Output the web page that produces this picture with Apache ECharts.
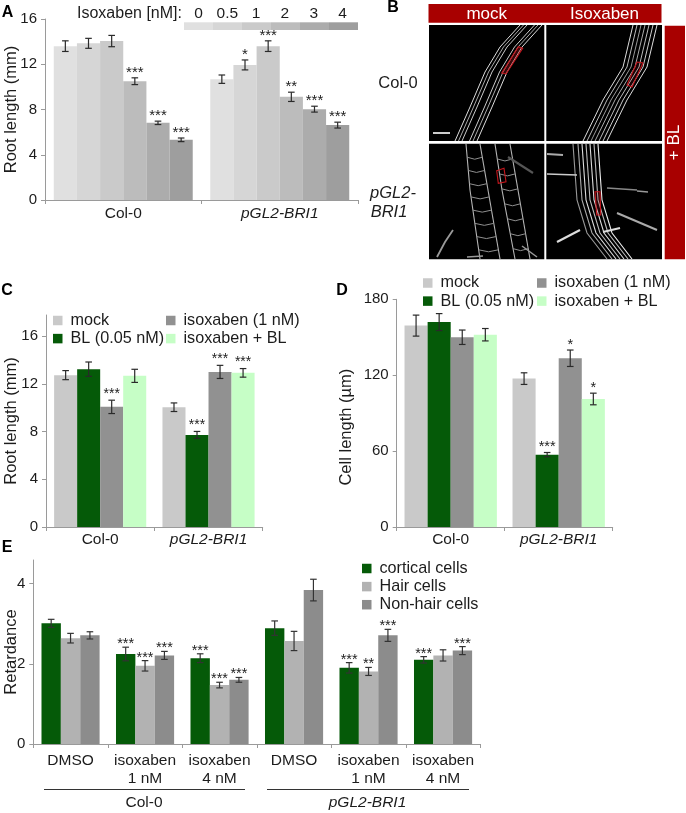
<!DOCTYPE html>
<html><head><meta charset="utf-8">
<script src="https://cdn.jsdelivr.net/npm/echarts@6/dist/echarts.min.js"></script>
<style>html,body{margin:0;padding:0;background:#fff}#c{width:686px;height:813px}</style>
</head><body><div id="c"></div>
<script>
const FONT = '"Liberation Sans", Arial, sans-serif';
const TXT = '#1c1c1c', AXIS = '#9a9a9a';

// Panel A
const aCategories = ['Col-0', 'pGL2-BRI1'];
const aDoses = ['0', '0.5', '1', '2', '3', '4'];
const aColors = ['#e0e0e0', '#d6d6d6', '#cacaca', '#bcbcbc', '#acacac', '#9e9e9e'];
const aColValues = [13.6, 13.85, 14.05, 10.5, 6.82, 5.32];
const aPglValues = [10.68, 11.94, 13.6, 9.12, 8.03, 6.62];
const aColErrors = [0.47, 0.44, 0.5, 0.3, 0.15, 0.16];
const aPglErrors = [0.37, 0.44, 0.47, 0.41, 0.26, 0.26];
const aColStars = ['', '', '', '***', '***', '***'];
const aPglStars = ['', '*', '***', '**', '***', '***'];
const aTicks = [0, 4, 8, 12, 16];

// Panels C and D
const treatments = ['mock', 'BL (0.05 nM)', 'isoxaben (1 nM)', 'isoxaben + BL'];
const treatmentColors = ['#c9c9c9', '#055a08', '#919191', '#c6fec6'];
const cdCategories = ['Col-0', 'pGL2-BRI1'];
const cColValues = [12.73, 13.23, 10.07, 12.67];
const cPglValues = [10.04, 7.72, 13.0, 12.92];
const cColErrors = [0.38, 0.6, 0.56, 0.55];
const cPglErrors = [0.36, 0.29, 0.55, 0.36];
const cColStars = ['', '', '***', ''];
const cPglStars = ['', '***', '***', '***'];
const cTicks = [0, 4, 8, 12, 16];
const dColValues = [159.2, 162, 150, 152];
const dPglValues = [117.3, 57.2, 133.4, 101.2];
const dColErrors = [8.3, 6.7, 5.7, 4.9];
const dPglErrors = [4.6, 1.7, 6.5, 4.6];
const dColStars = ['', '', '', ''];
const dPglStars = ['', '***', '*', '*'];
const dTicks = [0, 60, 120, 180];

// Panel E
const eCategories = ['DMSO', 'isoxaben\n1 nM', 'isoxaben\n4 nM', 'DMSO', 'isoxaben\n1 nM', 'isoxaben\n4 nM'];
const eSeriesNames = ['cortical cells', 'Hair cells', 'Non-hair cells'];
const eColors = ['#055a08', '#b2b2b2', '#8c8c8c'];
const eCortical = [3.01, 2.245, 2.14, 2.89, 1.90, 2.10];
const eHair = [2.64, 1.95, 1.47, 2.57, 1.81, 2.21];
const eNonHair = [2.71, 2.21, 1.6, 3.84, 2.71, 2.33];
const eCorticalErr = [0.1, 0.17, 0.11, 0.18, 0.13, 0.08];
const eHairErr = [0.12, 0.13, 0.07, 0.24, 0.1, 0.14];
const eNonHairErr = [0.09, 0.1, 0.06, 0.27, 0.15, 0.1];
const eCorticalStars = ['', '***', '***', '', '***', '***'];
const eHairStars = ['', '***', '***', '', '**', ''];
const eNonHairStars = ['', '***', '***', '', '***', '***'];
const eTicks = [0, 2, 4];

function transpose(rows) { return rows[0].map((_, i) => rows.map(r => r[i])); }

const grids = [
  { left: 45, top: 19, width: 313, height: 181, outerBoundsMode: 'none' },
  { left: 46, top: 315, width: 216.7, height: 212, outerBoundsMode: 'none' },
  { left: 396.7, top: 299.3, width: 216, height: 227.7, outerBoundsMode: 'none' },
  { left: 33.3, top: 560, width: 447, height: 184, outerBoundsMode: 'none' }
];
const labelStyle = { fontFamily: FONT, fontSize: 15.5, color: TXT };
function xAxis(i, cats, margin, extra) {
  return Object.assign({
    type: 'category', gridIndex: i, data: cats,
    axisLine: { lineStyle: { color: AXIS, width: 1 } },
    axisTick: { show: true, length: 4, lineStyle: { color: AXIS } },
    axisLabel: Object.assign({}, labelStyle, {
      interval: 0, margin: margin, lineHeight: 18,
      formatter: v => v === 'pGL2-BRI1' ? '{i|pGL2-BRI1}' : v,
      rich: { i: { fontStyle: 'italic', fontFamily: FONT, fontSize: 15.5, color: TXT } }
    })
  }, extra || {});
}
function yAxis(i, max, ticks, name, gap, pad) {
  return {
    type: 'value', gridIndex: i, min: 0, max: max,
    name: name, nameLocation: 'middle', nameRotate: 90, nameGap: gap, nameMoveOverlap: false,
    nameTextStyle: { fontFamily: FONT, fontSize: 16.5, color: TXT, padding: pad || 0 },
    axisLine: { show: true, lineStyle: { color: AXIS, width: 1 } },
    axisTick: { show: true, length: 4, lineStyle: { color: AXIS }, customValues: ticks },
    axisLabel: { fontFamily: FONT, fontSize: 15, color: TXT, margin: 8, customValues: ticks },
    splitLine: { show: false }
  };
}

function bars(axis, names, rows, colors, gap) {
  return names.map((n, s) => ({
    type: 'bar', name: n, xAxisIndex: axis, yAxisIndex: axis,
    data: rows[s], barGap: 0, barCategoryGap: gap,
    itemStyle: { color: colors[s] }, silent: true, animation: false
  }));
}
// rows[s][c], errs[s][c], stars[s][c]
function errors(axis, rows, errs, stars, gapFrac, starSize, starOff, errColor) {
  const pts = [];
  rows.forEach((r, s) => r.forEach((v, c) => pts.push({ s, c, v, e: errs[s][c], t: stars[s][c] })));
  const n = rows.length;
  return {
    type: 'custom', xAxisIndex: axis, yAxisIndex: axis, silent: true, animation: false, z: 5,
    data: pts.map(p => [p.c, p.v + p.e]),
    encode: { x: 0, y: 1 },
    renderItem(params, api) {
      const p = pts[params.dataIndex];
      const band = api.size([1, 0])[0];
      const bw = band * (1 - gapFrac) / n;
      const x = api.coord([p.c, 0])[0] + bw * (p.s - (n - 1) / 2);
      const hi = api.coord([p.c, p.v + p.e])[1];
      const lo = api.coord([p.c, p.v - p.e])[1];
      const st = { stroke: errColor, lineWidth: 1.2 };
      const kids = [
        { type: 'line', shape: { x1: x, y1: hi, x2: x, y2: lo }, style: st },
        { type: 'line', shape: { x1: x - 3.3, y1: hi, x2: x + 3.3, y2: hi }, style: st },
        { type: 'line', shape: { x1: x - 3.3, y1: lo, x2: x + 3.3, y2: lo }, style: st }
      ];
      if (p.t) kids.push({
        type: 'text', x: x, y: hi - starOff,
        style: { text: p.t, fontFamily: FONT, fontSize: starSize, fill: TXT, align: 'center', verticalAlign: 'middle' }
      });
      return { type: 'group', children: kids };
    }
  };
}

const aRows = transpose([aColValues, aPglValues]);
const aErrRows = transpose([aColErrors, aPglErrors]);
const aStarRows = transpose([aColStars, aPglStars]);
const cRows = transpose([cColValues, cPglValues]);
const cErrRows = transpose([cColErrors, cPglErrors]);
const cStarRows = transpose([cColStars, cPglStars]);
const dRows = transpose([dColValues, dPglValues]);
const dErrRows = transpose([dColErrors, dPglErrors]);
const dStarRows = transpose([dColStars, dPglStars]);
const eRows = [eCortical, eHair, eNonHair];
const eErrRows = [eCorticalErr, eHairErr, eNonHairErr];
const eStarRows = [eCorticalStars, eHairStars, eNonHairStars];

const series = [].concat(
  bars(0, aDoses, aRows, aColors, '11.2%'),
  [errors(0, aRows, aErrRows, aStarRows, 0.112, 15, 5, '#2a2a2a')],
  bars(1, treatments, cRows, treatmentColors, '15%'),
  [errors(1, cRows, cErrRows, cStarRows, 0.15, 14, 6, '#2a2a2a')],
  bars(2, treatments, dRows, treatmentColors, '14.5%'),
  [errors(2, dRows, dErrRows, dStarRows, 0.145, 14.5, 5, '#2a2a2a')],
  bars(3, eSeriesNames, eRows, eColors, '22%'),
  [errors(3, eRows, eErrRows, eStarRows, 0.22, 14.5, 3, '#333')]
);

function legend(left, top, names) {
  return {
    left, top, orient: 'vertical', data: names, selectedMode: false,
    itemWidth: 9.5, itemHeight: 9.5, itemGap: 2.1, icon: 'rect',
    padding: 0,
    textStyle: { fontFamily: FONT, fontSize: 16.2, color: TXT, padding: [0, 0, 0, 3] }
  };
}

// ---- non-data decoration ----
const g = [];
function text(t, x, y, o) {
  g.push({ type: 'text', x, y, silent: true, z: 20, rotation: (o && o.rot) || 0,
    style: Object.assign({ text: t, fontFamily: FONT, fontSize: 15.5, fill: TXT, align: 'center', verticalAlign: 'middle' }, o && o.s) });
}
function rect(x, y, w, h, fill) { g.push({ type: 'rect', silent: true, z: 10, shape: { x, y, width: w, height: h }, style: { fill } }); }
function poly(points, stroke, lw, z) {
  g.push({ type: 'polyline', silent: true, z: z || 11, shape: { points }, style: { stroke, lineWidth: lw, fill: 'none' } });
}
function shift(path, dx) { return path.map(p => [p[0] + dx, p[1]]); }
function redBox(points, fill) {
  g.push({ type: 'polygon', silent: true, z: 13, shape: { points }, style: { stroke: '#c5161d', lineWidth: 1.1, fill: fill || 'rgba(170,20,30,0.35)' } });
}
function bold(t, x, y) { text(t, x, y, { s: { fontWeight: 'bold', fontSize: 16, fill: '#000' } }); }

bold('A', 7.5, 13); bold('B', 393, 8); bold('C', 7, 291); bold('D', 342, 291); bold('E', 7, 548);

// Panel A dose key
text('Isoxaben [nM]:', 129.5, 14, { s: { fontSize: 16 } });
aDoses.forEach((d, i) => {
  rect(184 + i * 29, 22.3, 29, 7.7, aColors[i]);
  text(d, 198.5 + i * 28.8, 14, { s: { fontSize: 15.5 } });
});

// Panel E group labels
poly([[44, 789.5], [245, 789.5]], '#333', 1);
poly([[267, 789.5], [469, 789.5]], '#333', 1);
text('Col-0', 144, 803);
text('pGL2-BRI1', 367.5, 803, { s: { fontStyle: 'italic' } });

// Panel B
const RED = '#a80000';
rect(428.5, 4, 233, 18.8, RED);
rect(664.7, 25.7, 20.3, 233.5, RED);
text('mock', 486.7, 14, { s: { fill: '#fff', fontSize: 17 } });
text('Isoxaben', 604.5, 14, { s: { fill: '#fff', fontSize: 17 } });
text('+ BL', 674.5, 142.5, { rot: Math.PI / 2, s: { fill: '#fff', fontSize: 17 } });
text('Col-0', 398, 83, { s: { fontSize: 16.5 } });
text('pGL2-', 393, 193.5, { s: { fontSize: 16.5, fontStyle: 'italic' } });
text('BRI1', 389, 212, { s: { fontSize: 16.5, fontStyle: 'italic' } });
rect(429, 25, 115.3, 116, '#000');
rect(546.3, 25, 115.7, 116, '#000');
rect(429, 143.7, 115.3, 115.6, '#000');
rect(546.3, 143.7, 115.7, 115.6, '#000');

// top-left root
const tl = [[455, 141], [470, 107], [485, 72], [500, 47], [520, 25]];
[[0, '#ddd'], [3.5, '#aaa'], [7, '#ccc'], [14.5, '#ccc'], [18, '#aaa'], [22, '#ddd']].forEach(o => poly(shift(tl, o[0]), o[1], 1));
redBox([[501.7, 73], [518.3, 46.7], [522.7, 48.3], [506, 74]]);
poly([[433, 133], [450, 133]], '#fff', 1.6);

// top-right root
const tr = [[583, 141], [603, 100], [623, 67], [633, 25]];
[[0, '#ddd'], [4, '#bbb'], [8, '#999'], [12, '#aaa'], [16, '#bbb'], [20, '#ccc'], [24, '#ddd']].forEach(o => poly(shift(tr, o[0]), o[1], 1));
redBox([[627, 85], [637, 62], [643, 63], [632, 87]], 'rgba(170,20,30,0.15)');

// bottom-left root: two cell ladders
function ladder(a, b, step) {
  poly(a, '#b5b5b5', 1.1); poly(b, '#b5b5b5', 1.1);
  const lerp = (path, t) => {
    const y = path[0][1] + (path[path.length - 1][1] - path[0][1]) * t;
    for (let i = 1; i < path.length; i++) if (y <= path[i][1]) {
      const u = (y - path[i - 1][1]) / (path[i][1] - path[i - 1][1]);
      return [path[i - 1][0] + (path[i][0] - path[i - 1][0]) * u, y];
    }
    return path[path.length - 1];
  };
  for (let t = step; t < 1; t += step) {
    const p = lerp(a, t), q = lerp(b, t);
    poly([p, [(p[0] + q[0]) / 2, p[1] + 2], q], '#8f8f8f', 1);
  }
}
ladder([[466, 144], [470, 190], [480, 259]], [[480, 144], [488, 190], [500, 259]], 0.115);
ladder([[495, 144], [502, 190], [515, 259]], [[510, 144], [518, 190], [530, 259]], 0.13);
poly([[437, 257], [445, 242], [453, 230]], '#9a9a9a', 1.8);
poly([[508, 157], [533, 173]], '#555', 2.2);
poly([[467, 257], [483, 256]], '#999', 1.5);
poly([[522, 246], [537, 257]], '#999', 1.5);
redBox([[496.7, 170.7], [504, 168.3], [506, 181.7], [498.3, 183.3]], 'rgba(0,0,0,0)');

// bottom-right root
const br = [[573, 144], [577, 200], [587, 233], [607, 259]];
[[0, '#999'], [5, '#aaa'], [9, '#ddd'], [13, '#bbb'], [17, '#ddd'], [21, '#bbb'], [25, '#eee']].forEach(o => poly(shift(br, o[0]), o[1], 1.1));
[[[547, 154], [563, 155], '#aaa', 1.8], [[547, 174], [577, 175], '#ccc', 1.6], [[557, 242], [580, 230], '#ddd', 2.2],
 [[603, 232], [620, 228], '#ddd', 2], [[617, 213], [657, 230], '#aaa', 2], [[607, 188], [637, 190], '#888', 1.6],
 [[637, 191], [648, 192], '#999', 1.6]].forEach(h => poly([h[0], h[1]], h[2], h[3]));
redBox([[595, 191.7], [600, 191.7], [600.7, 215], [596.7, 215]], 'rgba(170,20,30,0.2)');

const chart = echarts.init(document.getElementById('c'), null, { renderer: 'canvas' });
chart.setOption({
  animation: false,
  backgroundColor: '#fff',
  textStyle: { fontFamily: FONT },
  tooltip: { show: false },
  grid: grids,
  xAxis: [
    xAxis(0, aCategories, 5),
    xAxis(1, cdCategories, 4),
    xAxis(2, cdCategories, 4),
    xAxis(3, eCategories, 8)
  ],
  yAxis: [
    yAxis(0, 16, aTicks, 'Root length (mm)', 25),
    yAxis(1, 17.77, cTicks, 'Root length (mm)', 26),
    yAxis(2, 180, dTicks, 'Cell length (µm)', 42, [0, 28, 0, 0]),
    yAxis(3, 4.59, eTicks, 'Retardance', 13)
  ],
  legend: [
    legend(53, 312.5, treatments.slice(0, 2)),
    legend(166, 312.5, treatments.slice(2)),
    legend(423, 275, treatments.slice(0, 2)),
    legend(537, 275, treatments.slice(2)),
    legend(362, 560.5, eSeriesNames)
  ],
  graphic: { elements: g },
  series
});
</script></body></html>
